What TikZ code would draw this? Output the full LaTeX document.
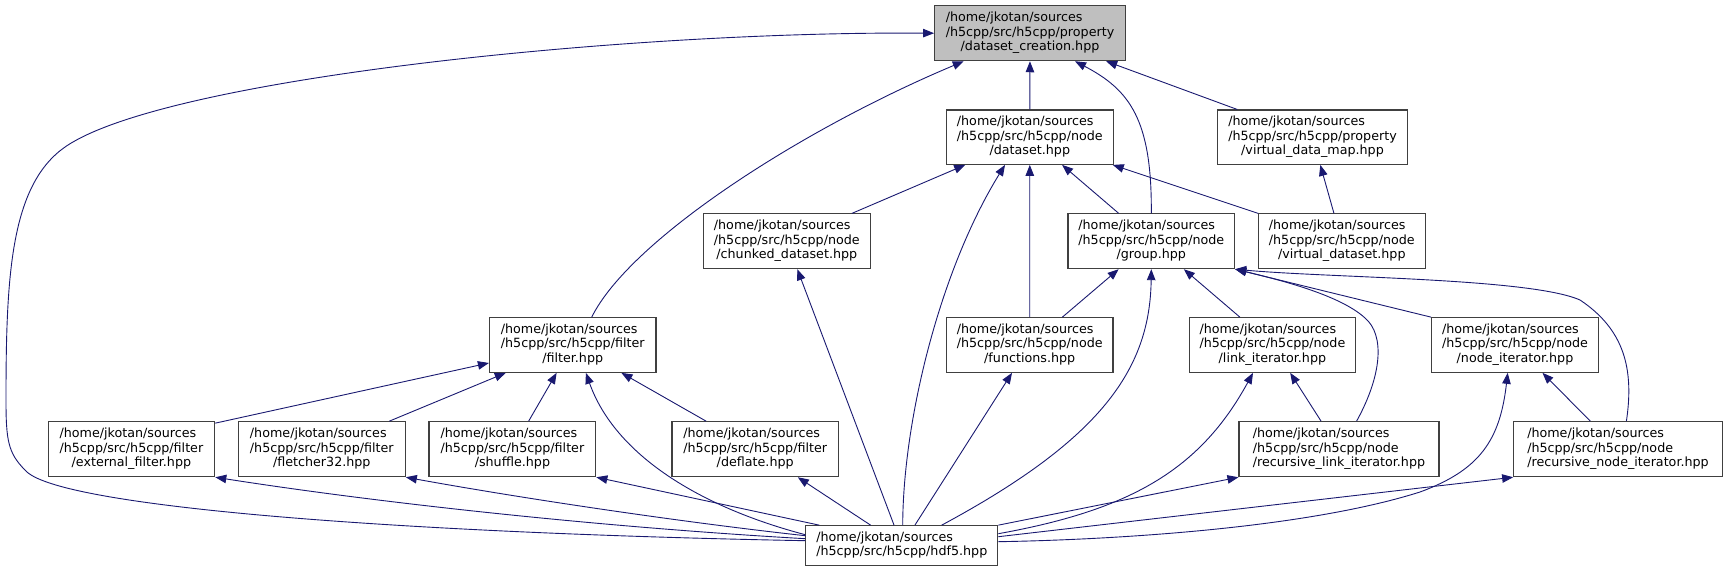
\documentclass[tikz,border=0pt]{standalone}
\usepackage{fontspec}
\setmainfont{DejaVu Sans}
\usetikzlibrary{arrows.meta,calc}
\definecolor{edgec}{HTML}{191970}
\definecolor{boxc}{HTML}{404040}
\definecolor{rootc}{HTML}{BFBFBF}
\newcommand\dlab[3]{\begin{tabular}{@{}l@{}}#1\\#2\\\multicolumn{1}{@{}c@{}}{#3}\end{tabular}}
\newcommand\dlabb[2]{\begin{tabular}{@{}l@{}}#1\\\multicolumn{1}{@{}c@{}}{#2}\end{tabular}}
\tikzset{
  fbox/.style={draw=boxc, fill=white, line width=1.1pt, inner sep=0pt, minimum height=55pt,
    font=\fontsize{12.7}{14.67}\selectfont},
  edge/.style={draw=edgec, line width=0.9pt, -{Triangle[length=11pt,width=8.5pt]}}
}
\begin{document}
\begin{tikzpicture}[x=1pt,y=-1pt]
\useasboundingbox (0,0) rectangle (1727,572);
% nodes
\node[fbox, fill=rootc, minimum width=190.8] (dc) at (1030,33.2) {\dlab{/home/jkotan/sources}{/h5cpp/src/h5cpp/property}{/dataset\_creation.hpp}};
\node[fbox, minimum width=166.8, minimum height=54.3] (ds) at (1029.8,137.2) {\dlab{/home/jkotan/sources}{/h5cpp/src/h5cpp/node}{/dataset.hpp}};
\node[fbox, minimum width=190.8, minimum height=54.3] (vdm) at (1312.5,137.2) {\dlab{/home/jkotan/sources}{/h5cpp/src/h5cpp/property}{/virtual\_data\_map.hpp}};
\node[fbox, minimum width=167, minimum height=54.7] (chunked) at (786.8,241.3) {\dlab{/home/jkotan/sources}{/h5cpp/src/h5cpp/node}{/chunked\_dataset.hpp}};
\node[fbox, minimum width=166.7, minimum height=54.7] (group) at (1151.3,241.3) {\dlab{/home/jkotan/sources}{/h5cpp/src/h5cpp/node}{/group.hpp}};
\node[fbox, minimum width=167.2, minimum height=54.7] (vds) at (1341.8,241.3) {\dlab{/home/jkotan/sources}{/h5cpp/src/h5cpp/node}{/virtual\_dataset.hpp}};
\node[fbox, minimum width=166.5, minimum height=54.6] (filter) at (572.7,345) {\dlab{/home/jkotan/sources}{/h5cpp/src/h5cpp/filter}{/filter.hpp}};
\node[fbox, minimum width=166.6, minimum height=54.6] (functions) at (1029.7,345) {\dlab{/home/jkotan/sources}{/h5cpp/src/h5cpp/node}{/functions.hpp}};
\node[fbox, minimum width=166.7, minimum height=54.6] (link) at (1272.4,345) {\dlab{/home/jkotan/sources}{/h5cpp/src/h5cpp/node}{/link\_iterator.hpp}};
\node[fbox, minimum width=166.7, minimum height=54.6] (nodeit) at (1515,345) {\dlab{/home/jkotan/sources}{/h5cpp/src/h5cpp/node}{/node\_iterator.hpp}};
\node[fbox, minimum width=166.7] (ext) at (131.4,449.2) {\dlab{/home/jkotan/sources}{/h5cpp/src/h5cpp/filter}{/external\_filter.hpp}};
\node[fbox, minimum width=167] (fletcher) at (321.8,449.2) {\dlab{/home/jkotan/sources}{/h5cpp/src/h5cpp/filter}{/fletcher32.hpp}};
\node[fbox, minimum width=166.8] (shuffle) at (512.4,449.2) {\dlab{/home/jkotan/sources}{/h5cpp/src/h5cpp/filter}{/shuffle.hpp}};
\node[fbox, minimum width=166.4] (deflate) at (755.2,449.2) {\dlab{/home/jkotan/sources}{/h5cpp/src/h5cpp/filter}{/deflate.hpp}};
\node[fbox, minimum width=200] (recl) at (1339,449.2) {\dlab{/home/jkotan/sources}{/h5cpp/src/h5cpp/node}{/recursive\_link\_iterator.hpp}};
\node[fbox, minimum width=208.6] (recn) at (1618,449.2) {\dlab{/home/jkotan/sources}{/h5cpp/src/h5cpp/node}{/recursive\_node\_iterator.hpp}};
\node[fbox, minimum width=192, minimum height=40] (hdf5) at (901.8,545.7) {\dlabb{/home/jkotan/sources}{/h5cpp/src/h5cpp/hdf5.hpp}};
% edges into dataset_creation
\draw[edge] ($(hdf5.west)+(0,-5)$) .. controls (400,533) and (55,507) .. (25,470)
  .. controls (8,453) and (6,440) .. (6,400)
  .. controls (6,280) and (10,190) .. (61,150)
  .. controls (150,80) and (620,31) .. (dc.west);
\draw[edge] ($(filter.north)+(19,0)$) .. controls (630,240) and (800,130) .. ($(dc.south west)+(29.7,0)$);
\draw[edge] (ds) -- (dc);
\draw[edge] (group.north) .. controls (1152,120) and (1130,90) .. ($(dc.south)+(45,0)$);
\draw[edge] (vdm) -- (dc);
% edges into dataset
\draw[edge] (chunked) -- (ds);
\draw[edge] ($(hdf5.north)+(0.9,0)$) .. controls (903,420) and (940,270) .. ($(ds.south)+(-24.8,0)$);
\draw[edge] (functions) -- (ds);
\draw[edge] (group) -- (ds);
\draw[edge] (vds) -- (ds);
% virtual_data_map
\draw[edge] (vds) -- (vdm);
% edges into group
\draw[edge] (functions) -- (group);
\draw[edge] ($(hdf5.north)+(39.9,0)$) .. controls (1100,440) and (1150,370) .. (group.south);
\draw[edge] (link) -- (group);
\draw[edge] ($(recl.north)+(17.6,0)$) .. controls (1382,375) and (1385,335) .. (1365,318)
  .. controls (1340,295) and (1280,280) .. (group.south east);
\draw[edge] (nodeit.north west) -- (group.south east);
\draw[edge] ($(recn.north)+(8.4,0)$) .. controls (1634,370) and (1625,330) .. (1580,300)
  .. controls (1530,278) and (1330,278) .. (group.south east);
% edges into filter
\draw[edge] ($(ext.north east)+(0,2)$) -- ($(filter.west)+(0,18)$);
\draw[edge] (fletcher) -- (filter);
\draw[edge] (shuffle) -- (filter);
\draw[edge] (deflate) -- (filter);
\draw[edge] ($(hdf5.west)+(0,-11)$) .. controls (700,507) and (615,455) .. ($(filter.south)+(13.2,0)$);
% edges from hdf5
\draw[edge] (hdf5) -- (chunked);
\draw[edge] (hdf5) -- (functions);
\draw[edge] (hdf5) -- (deflate);
\draw[edge] ($(hdf5.north west)+(14,0)$) -- (shuffle.south east);
\draw[edge] ($(hdf5.west)+(0,-10)$) .. controls (680,522) and (520,498) .. (fletcher.south east);
\draw[edge] ($(hdf5.west)+(0,-7)$) .. controls (600,527) and (380,503) .. (ext.south east);
\draw[edge] ($(hdf5.east)+(0,-12)$) .. controls (1130,510) and (1200,470) .. ($(link.south)+(-19.4,0)$);
\draw[edge] (hdf5.north east) -- (recl.south west);
\draw[edge] ($(hdf5.east)+(0,-9)$) -- (recn.south west);
\draw[edge] ($(hdf5.east)+(0,-4)$) .. controls (1100,540) and (1300,530) .. (1420,492)
  .. controls (1480,470) and (1500,440) .. ($(nodeit.south)+(-7.3,0)$);
% iterators
\draw[edge] (recl) -- (link);
\draw[edge] (recn) -- (nodeit);
\end{tikzpicture}
\end{document}
